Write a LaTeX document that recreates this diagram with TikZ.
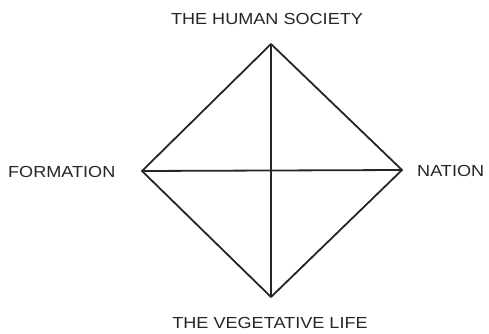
\documentclass[tikz,border=0pt]{standalone}
\usepackage{fontspec}
\setmainfont{Liberation Sans}
\begin{document}
\begin{tikzpicture}[x=1pt,y=-1pt,
  lbl/.style={inner sep=0pt, text=black!85, font=\fontsize{16}{16}\selectfont},
  edge/.style={draw=black!85, line width=1.8pt, line join=round}]
\useasboundingbox[fill=white] (0,0) rectangle (489,334);
\coordinate (T) at (271,44);
\coordinate (B) at (271,297);
\coordinate (L) at (142,171);
\coordinate (R) at (402,170);
\draw[edge] (T) -- (R) -- (B) -- (L) -- cycle;
\draw[edge] (T) -- (B);
\draw[edge] (L) -- (R);
\node[lbl] (top) at (267,19) {\scalebox{1.13}[1]{THE HUMAN SOCIETY}};
\node[lbl, anchor=west] (left) at (8,172) {\scalebox{1.13}[1]{FORMATION}};
\node[lbl, anchor=west] (right) at (417,171) {\scalebox{1.13}[1]{NATION}};
\node[lbl] (bottom) at (270,323) {\scalebox{1.13}[1]{THE VEGETATIVE LIFE}};
\end{tikzpicture}
\end{document}
